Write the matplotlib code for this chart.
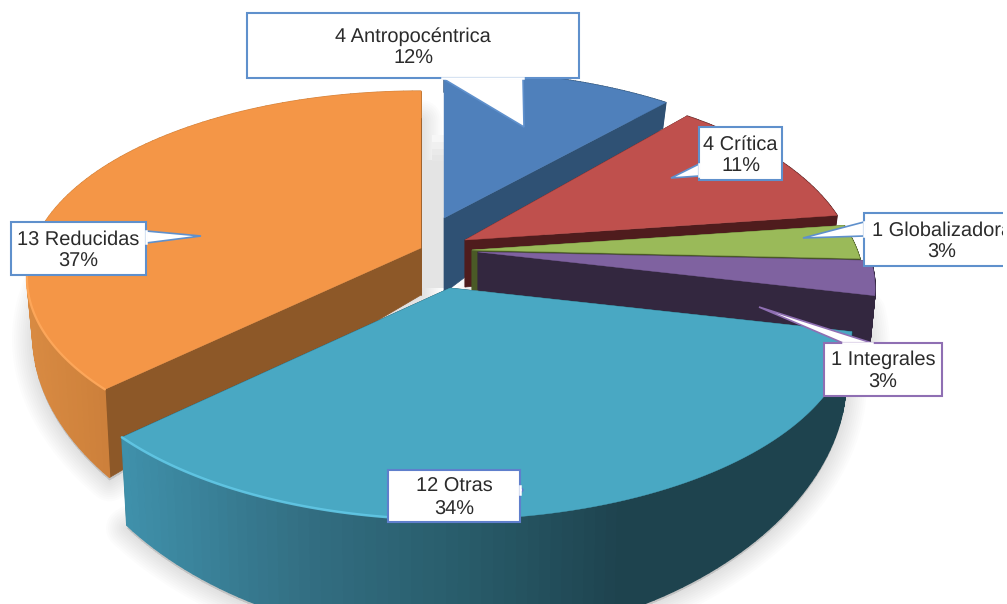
import numpy as np
import matplotlib
matplotlib.use("Agg")
import matplotlib.pyplot as plt
from matplotlib.colors import to_rgb

plt.rcParams['font.family'] = ['Liberation Sans', 'DejaVu Sans']
plt.rcParams['text.hinting'] = 'no_hinting'
plt.rcParams['text.hinting_factor'] = 1

# Data, clockwise from the top of the pie
categories = ['Antropocéntrica', 'Crítica', 'Globalizadora', 'Integrales', 'Otras', 'Reducidas']
counts = [4, 4, 1, 1, 12, 13]
percents = [12, 11, 3, 3, 34, 37]

# Colours
top_colors = ['#4f80bb', '#bf504d', '#9aba59', '#7f62a0', '#49a8c3', '#f49647']
side_colors = ['#2f5174', '#4f1c1d', '#4a5a26', '#33273f', '#1f4650', '#8d5828']
wall_stops = {
    4: [(125, '#3f90aa'), (300, '#336f83'), (470, '#285b69'), (620, '#1e434e'), (860, '#1e434e')],
    5: [(30, '#d88a42'), (110, '#cc7f3a')],
}

# Layout (pixels of the 1007x604 picture)
apex_x = [444, 465, 472, 478, 450, 421]
apex_y = [218, 240, 250, 252, 288, 248]
radius_x = [385, 385, 385, 390, 395, 389]
radius_y = [175, 188, 188, 188, 188, 182]
persp = [0.188, 0.188, 0.188, 0.188, 0.188, 0.16]
rim_depth = [47, 47, 47, 47, 47, 52]
apex_depth = [75, 47, 40, 38, 47, 47]

box_left = [247, 699, 864, 824, 388, 11]
box_right = [579, 782, 1010, 942, 520, 146]
box_top = [13, 127, 213, 343, 470, 222]
box_bottom = [78, 180, 266, 396, 522, 275]
pointer_x = [[442, 524, 523], [699, 671, 699], [864, 803, 864], [843, 759, 872], [520, 523, 520], [146, 201, 146]]
pointer_y = [[78, 127, 78], [164, 178, 176], [222, 238, 236], [343, 307, 343], [486, 490, 494], [231, 236, 243]]
box_edges = ['#5f90cc', '#5f90cc', '#5f90cc', '#8f6fb3', '#5f7fcc', '#5f90cc']


def rim(i, a0, a1, n=90):
    """Top rim and bottom rim points of slice i between two angles."""
    t = np.radians(np.linspace(a0, a1, n))
    xx = np.sin(t)
    yy = np.cos(t)
    s = 1 / (1 + persp[i] * yy)
    top_x = apex_x[i] + radius_x[i] * xx * s
    top_y = apex_y[i] - radius_y[i] * yy * s
    bot_x = apex_x[i] + (top_x - apex_x[i]) * 0.985
    bot_y = top_y + rim_depth[i] * s ** 4.5
    return top_x, top_y, bot_x, bot_y


fig = plt.figure(figsize=(10.07, 6.04), dpi=100)
ax = fig.add_axes([0, 0, 1, 1])
ax.set_xlim(0, 1007)
ax.set_ylim(604, 0)
ax.axis('off')

edges = np.concatenate([[0], np.cumsum(counts)]) / sum(counts) * 360

# Soft shadow under the slices
for i in [3, 4, 5]:
    tx, ty, bx, by = rim(i, edges[i], edges[i + 1])
    px = np.concatenate([[apex_x[i]], bx])
    py = np.concatenate([[apex_y[i] + apex_depth[i]], by + 3])
    for lw in range(3, 33, 3):
        ax.fill(px, py, facecolor='#000000', edgecolor='#000000', lw=lw, alpha=0.011,
                joinstyle='round', zorder=1)

# Grey gap between the orange and blue slices
ax.fill_between([apex_x[5], apex_x[0]], 160, apex_y[4], color='#e4e4e4', lw=0, zorder=1.5)
for k, c in zip([135, 142, 149, 155], ['#f7f7f7', '#f0f0f0', '#eaeaea', '#e6e6e6']):
    ax.fill_between([apex_x[0] - 12, apex_x[0]], k, 161, color=c, lw=0, zorder=1.5)

# Slices from back to front
z = 2
for i in [0, 1, 2, 3, 5, 4]:
    tx, ty, bx, by = rim(i, edges[i], edges[i + 1])
    ax_, ay_ = apex_x[i], apex_y[i]

    # cut faces
    for j in [0, -1]:
        ax.fill([ax_, tx[j], bx[j], ax_], [ay_, ty[j], by[j], ay_ + apex_depth[i]],
                color=side_colors[i], lw=0.5, zorder=z)

    # outer wall, split up so it can carry a gradient
    for j in range(len(tx) - 1):
        if i in wall_stops:
            xs = [p[0] for p in wall_stops[i]]
            rgb = [np.interp((tx[j] + tx[j + 1]) / 2, xs, [to_rgb(p[1])[c] for p in wall_stops[i]])
                   for c in range(3)]
        else:
            rgb = side_colors[i]
        ax.fill([tx[j], tx[j + 1], bx[j + 1], bx[j]], [ty[j], ty[j + 1], by[j + 1], by[j]],
                color=rgb, lw=1, zorder=z)

    # top face
    ax.fill(np.concatenate([[ax_], tx]), np.concatenate([[ay_], ty]), color=top_colors[i], lw=0.3, zorder=z + 0.5)
    z += 1

# Light bevel on the front rims
tx, ty, bx, by = rim(4, 185, edges[5], 50)
ax.plot(tx, ty, color='#62c8e6', lw=1.8, alpha=0.9, zorder=9, solid_capstyle='round')
tx, ty, bx, by = rim(5, edges[5], 262, 40)
ax.plot(tx, ty, color='#ffa95c', lw=1.6, alpha=0.9, zorder=9, solid_capstyle='round')

# Callouts
for i in range(len(categories)):
    ax.fill(pointer_x[i], pointer_y[i], facecolor='white', edgecolor=box_edges[i], lw=1.2, zorder=10,
            joinstyle='miter')
    ax.fill([box_left[i], box_right[i], box_right[i], box_left[i]],
            [box_top[i], box_top[i], box_bottom[i], box_bottom[i]],
            facecolor='white', edgecolor=box_edges[i], lw=1.5, zorder=11)
    # cover the box edge where the pointer joins it
    ax.plot(pointer_x[i][::2], pointer_y[i][::2], color='white', lw=1.8, zorder=12)
    mid = (box_left[i] + box_right[i]) / 2
    if i == 2:
        mid = 942
    ax.text(mid, (box_top[i] + box_bottom[i]) / 2 + 2,
            f"{counts[i]} {categories[i]}\n{percents[i]}%",
            ha='center', va='center', fontsize=14.2, color='#2b2b2b', linespacing=1.28, zorder=13)

# The picture stops short of the right side
ax.fill_between([1003, 1007], 0, 604, color='white', lw=0, zorder=20)

fig.savefig('out.png', dpi=100)
